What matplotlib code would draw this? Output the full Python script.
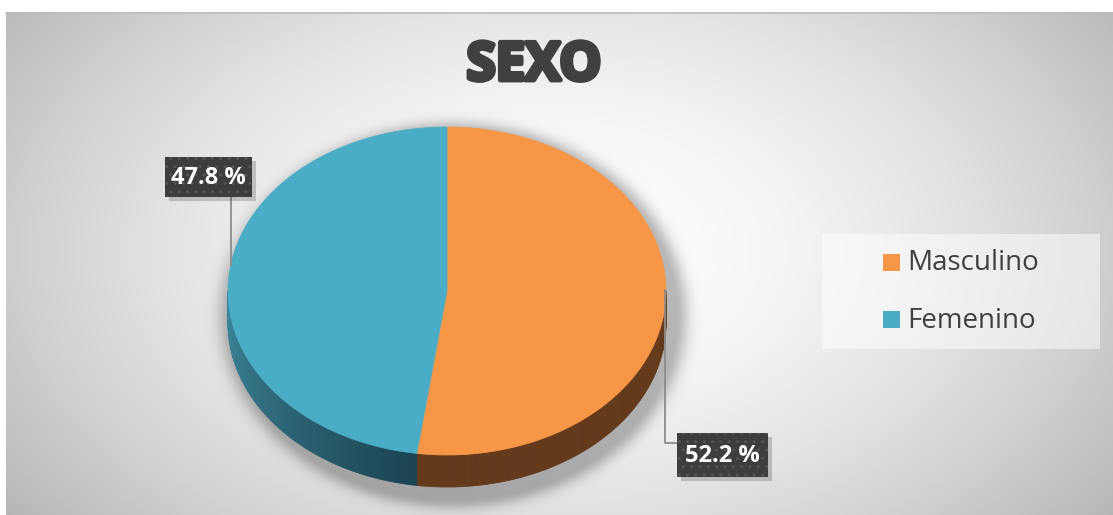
import numpy as np
import matplotlib
matplotlib.use("Agg")
import matplotlib.pyplot as plt
import matplotlib.patheffects as pe
from matplotlib.patches import Polygon, Rectangle

# --- Datos ---
categorias = ["Masculino", "Femenino"]
porcentajes = [52.2, 47.8]
colores_sup = ["#F79646", "#4BACC6"]
titulo = "SEXO"

# --- Lienzo en coordenadas de pixel ---
W, H = 1113, 515
fig = plt.figure(figsize=(W / 100, H / 100), dpi=100)
ax = fig.add_axes([0, 0, 1, 1])
ax.set_xlim(0, W)
ax.set_ylim(H, 0)
ax.set_axis_off()

# geometria del pastel 3D
cx, cy, rx, ry, prof = 447, 291, 219, 164, 32

# --- Fondo con degradado radial + sombra del pastel ---
x0, y0 = 6, 12
yy, xx = np.mgrid[y0:H, x0:W]
d = np.sqrt(((xx - 560) / 640.0) ** 2 + ((yy - 250) / 410.0) ** 2)
fondo = 255 - 64 * np.clip(d, 0, 1.2) ** 1.7
ds = np.sqrt(((xx - (cx + 6)) / (rx + 3.0)) ** 2 + ((yy - (cy + prof / 2 + 8)) / (ry + prof / 2 + 3.0)) ** 2)
dist = (ds - 1) * (ry + prof / 2)
sombra = np.where(dist < 0, 1.0, np.exp(-(np.clip(dist, 0, None) / 11.0) ** 2))
fondo = fondo * (1 - 0.27 * sombra)
img = np.dstack([fondo, fondo, fondo]) / 255.0
ax.add_patch(Rectangle((0, 0), W, H, color="white", zorder=0))
ax.imshow(img, extent=(x0, W, H, y0), zorder=1, interpolation="bilinear", aspect="auto")
ax.plot([x0, W], [y0 + 0.5, y0 + 0.5], color="#BDBDBD", lw=1.2, zorder=2)


def punto(t, dy=0.0):
    return cx + rx * np.cos(t), cy - ry * np.sin(t) + dy


# --- Angulos de cada sector (desde arriba, sentido horario) ---
total = sum(porcentajes)
angulos = []
inicio = 90.0
for v in porcentajes:
    fin = inicio - 360.0 * v / total
    angulos.append((inicio, fin))
    inicio = fin

# --- Paredes laterales (solo la mitad frontal) ---
colores_lado = [((100, 58, 28), (100, 58, 28)), ((62, 136, 156), (28, 68, 82))]
for (a1, a2), (c_ini, c_fin) in zip(angulos, colores_lado):
    lo, hi = min(a1, a2), max(a1, a2)
    lo_n, hi_n = lo % 360, (lo % 360) + (hi - lo)
    # interseccion con [180, 360]
    s, e = max(lo_n, 180), min(hi_n, 360)
    if e <= s:
        continue
    n = 80
    ts = np.radians(np.linspace(s, e, n + 1))
    for i in range(n):
        f = i / max(n - 1, 1)
        col = np.array(c_ini) + (np.array(c_fin) - np.array(c_ini)) * f
        ta, tb = ts[i], ts[i + 1]
        xa, ya = punto(ta)
        xb, yb = punto(tb)
        poly = [(xa, ya), (xb, yb), (xb, yb + prof), (xa, ya + prof)]
        ax.add_patch(Polygon(poly, closed=True, facecolor=col / 255.0,
                             edgecolor=col / 255.0, lw=0.6, zorder=3))

# --- Cara superior ---
for (a1, a2), col in zip(angulos, colores_sup):
    ts = np.radians(np.linspace(a1, a2, 200))
    pts = [(cx, cy)] + [punto(t) for t in ts]
    ax.add_patch(Polygon(pts, closed=True, facecolor=col, edgecolor=col, lw=0.5, zorder=4))

# --- Etiquetas de datos con lineas guia ---
cajas = [(677, 433, 91, 44), (165, 157, 87, 40)]
guias = [([665, 665, 677], [290, 443, 443]), ([231, 231], [265, 197])]
for v, (bx, by, bw, bh), (gx, gy) in zip(porcentajes, cajas, guias):
    ax.plot(gx, gy, color="#8C8C8C", lw=1.3, zorder=5)
    ax.add_patch(Rectangle((bx + 4, by + 4), bw, bh, facecolor="black", alpha=0.18, lw=0, zorder=5))
    ax.add_patch(Rectangle((bx, by), bw, bh, facecolor="#3D3D3D", edgecolor="#545454",
                           hatch="..", lw=0, zorder=6))
    ax.text(bx + bw / 2, by + bh / 2 + 1, f"{v} %", color="white", fontsize=17,
            fontweight="bold", family="Open Sans", ha="center", va="center", zorder=7)

# --- Titulo ---
ax.text(534, 66, titulo, fontsize=38, fontweight="bold", family="Open Sans",
        color="#404040", ha="center", va="center", zorder=7,
        path_effects=[pe.withStroke(linewidth=3.5, foreground="#404040")])

# --- Leyenda ---
ax.add_patch(Rectangle((822, 234), 278, 115, facecolor="white", alpha=0.5, lw=0, zorder=5))
for i, (cat, col) in enumerate(zip(categorias, colores_sup)):
    yc = 262.5 + i * 57
    ax.add_patch(Rectangle((883, yc - 8.5), 17, 17, facecolor=col, lw=0, zorder=6))
    ax.text(907, yc + 1, cat, fontsize=20, family="Open Sans", color="#404040",
            ha="left", va="center", zorder=7)

fig.savefig("out.png", dpi=100)
